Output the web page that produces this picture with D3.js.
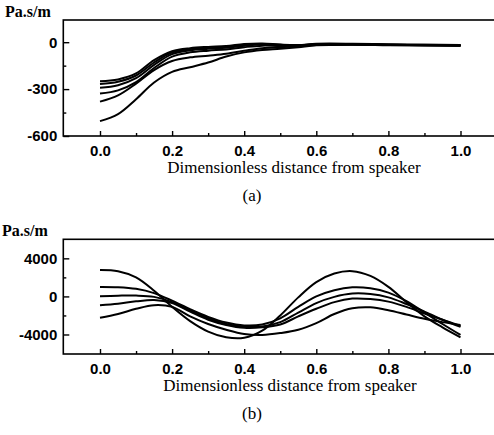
<!DOCTYPE html>
<html>
    <head>
        <meta charset="utf-8">
        <style>
            body { margin: 0; background: white; }
            .frame { fill: none; stroke: black; stroke-width: 1.6; }
            .courbe { fill: none; stroke: black; stroke-width: 2; }
            .tick_lab { font-family: "Liberation Sans", Arial, sans-serif; font-weight: bold; font-size: 15px; }
            .titre { font-family: "Liberation Serif", "Times New Roman", serif; font-size: 17px; }
            .unite { font-family: "Liberation Serif", "Times New Roman", serif; font-weight: bold; font-size: 16px; }
        </style>
    </head>
    <body>
        <div id="plateau"></div>
        <script src="https://cdn.jsdelivr.net/npm/d3@7"></script>
        <script>

//////////////////// donnees ////////////////////
// (a) distance adimensionnelle
let xs_a = [0, 0.05, 0.1, 0.15, 0.2, 0.25, 0.3, 0.35, 0.4, 0.45, 0.5, 0.55, 0.6, 0.7, 0.8, 0.9, 1.0];
let courbe_a1 = [-250, -238, -200, -115, -58, -38, -30, -25, -12, -8, -15, -18, -10, -10, -14, -16, -18];
let courbe_a2 = [-268, -253, -213, -130, -66, -44, -35, -29, -16, -11, -17, -20, -12, -12, -15, -17, -19];
let courbe_a3 = [-292, -275, -230, -145, -76, -52, -42, -35, -22, -15, -20, -22, -14, -13, -16, -18, -20];
let courbe_a4 = [-328, -308, -255, -165, -92, -65, -54, -46, -32, -22, -24, -24, -16, -14, -17, -19, -21];
let courbe_a5 = [-380, -340, -265, -178, -120, -97, -86, -74, -55, -38, -32, -26, -18, -15, -18, -20, -22];
let courbe_a6 = [-505, -460, -365, -258, -190, -160, -130, -92, -65, -50, -42, -32, -20, -16, -19, -21, -23];

// (b)
let xs_b = [0, 0.05, 0.1, 0.15, 0.2, 0.25, 0.3, 0.35, 0.4, 0.45, 0.5, 0.55, 0.6, 0.65, 0.7, 0.75, 0.8, 0.85, 0.9, 0.95, 1.0];
let courbe_b1 = [2770, 2650, 2000, 600, -1100, -2600, -3700, -4300, -4350, -3600, -2000, -100, 1500, 2400, 2650, 2150, 1000, -600, -2100, -3250, -4300];
let courbe_b2 = [1000, 970, 800, 350, -450, -1350, -2150, -2750, -3050, -2950, -2300, -1100, 0, 650, 950, 850, 400, -500, -1700, -2900, -4050];
let courbe_b3 = [30, 80, 90, -50, -600, -1500, -2300, -2900, -3200, -3150, -2700, -1700, -700, -50, 300, 250, -100, -800, -1600, -2450, -3200];
let courbe_b4 = [-920, -760, -520, -380, -700, -1600, -2450, -3000, -3300, -3250, -2950, -2100, -1300, -600, -230, -280, -550, -1100, -1800, -2450, -3100];
let courbe_b5 = [-2250, -1850, -1300, -920, -1100, -2100, -2900, -3500, -3950, -4050, -3850, -3500, -2800, -1850, -1250, -1150, -1450, -1900, -2350, -2700, -3000];

let x_ticks = [0, 0.2, 0.4, 0.6, 0.8, 1.0];
let x_minor = [0.1, 0.3, 0.5, 0.7, 0.9];
let y_ticks_a = [0, -300, -600];
let y_minor_a = [-150, -450];
let y_ticks_b = [4000, 0, -4000];
let y_minor_b = [2000, -2000];

//////////////////// page ////////////////////
let W = 494, H = 435;
let svg = d3.select('#plateau').append('svg')
    .attr('width', W)
    .attr('height', H);

function genGraph(cfg) {
    let g = svg.append('g');
    let x = d3.scaleLinear().domain([0, 1]).range([100, 460.5]);
    let y = d3.scaleLinear().domain(cfg.y_dom).range([cfg.bas, cfg.haut]);
    let gauche = 63.3;

    // ticks x (vers l'interieur)
    g.append('g')
        .attr('transform', `translate(0, ${cfg.bas})`)
        .call(d3.axisBottom(x).tickValues(cfg.x_ticks).tickSize(-5).tickPadding(9).tickFormat(d3.format('.1f')))
        .call(a => a.select('.domain').remove())
        .call(a => a.selectAll('text').attr('class', 'tick_lab').attr('fill', 'black'));
    g.append('g')
        .attr('transform', `translate(0, ${cfg.bas})`)
        .call(d3.axisBottom(x).tickValues(cfg.x_minor).tickSize(-3).tickFormat(''))
        .call(a => a.select('.domain').remove());

    // ticks y
    g.append('g')
        .attr('transform', `translate(${gauche}, 0)`)
        .call(d3.axisLeft(y).tickValues(cfg.y_ticks).tickSize(-6).tickPadding(6).tickFormat(d => String(d)))
        .call(a => a.select('.domain').remove())
        .call(a => a.selectAll('text').attr('class', 'tick_lab').attr('fill', 'black'));
    g.append('g')
        .attr('transform', `translate(${gauche}, 0)`)
        .call(d3.axisLeft(y).tickValues(cfg.y_minor).tickSize(-3).tickFormat(''))
        .call(a => a.select('.domain').remove());

    g.selectAll('.tick line').attr('stroke-width', 1.4);

    // cadre
    g.append('rect')
        .classed('frame', true)
        .attr('x', gauche)
        .attr('y', cfg.haut)
        .attr('width', 520 - gauche)
        .attr('height', cfg.bas - cfg.haut);

    // courbes
    let ligne = d3.line()
        .x(d => x(d[0]))
        .y(d => y(d[1]))
        .curve(d3.curveCatmullRom);
    cfg.series.forEach(s => {
        g.append('path')
            .classed('courbe', true)
            .attr('d', ligne(cfg.xs.map((v, i) => [v, s[i]])));
    });

    // textes
    g.append('text')
        .attr('class', 'unite')
        .attr('x', cfg.unite_x)
        .attr('y', cfg.unite_y)
        .text('Pa.s/m');
    g.append('text')
        .attr('class', 'titre')
        .attr('x', cfg.titre_x)
        .attr('y', cfg.bas + 37)
        .attr('text-anchor', 'middle')
        .text('Dimensionless distance from speaker');
    g.append('text')
        .attr('class', 'titre')
        .attr('x', 252)
        .attr('y', cfg.lettre_y)
        .attr('text-anchor', 'middle')
        .style('font-size', '17px')
        .text(cfg.lettre);
}

genGraph({
    y_dom: [-600, 142], haut: 20, bas: 136,
    xs: xs_a, series: [courbe_a1, courbe_a2, courbe_a3, courbe_a4, courbe_a5, courbe_a6],
    x_ticks: x_ticks, x_minor: x_minor, y_ticks: y_ticks_a, y_minor: y_minor_a,
    unite_x: 5, unite_y: 17, titre_x: 294, lettre: '(a)', lettre_y: 201
});

genGraph({
    y_dom: [-6050, 6000], haut: 239.3, bas: 354,
    xs: xs_b, series: [courbe_b1, courbe_b2, courbe_b3, courbe_b4, courbe_b5],
    x_ticks: x_ticks, x_minor: x_minor, y_ticks: y_ticks_b, y_minor: y_minor_b,
    unite_x: 2, unite_y: 236, titre_x: 290, lettre: '(b)', lettre_y: 419
});

        </script>
    </body>
</html>
